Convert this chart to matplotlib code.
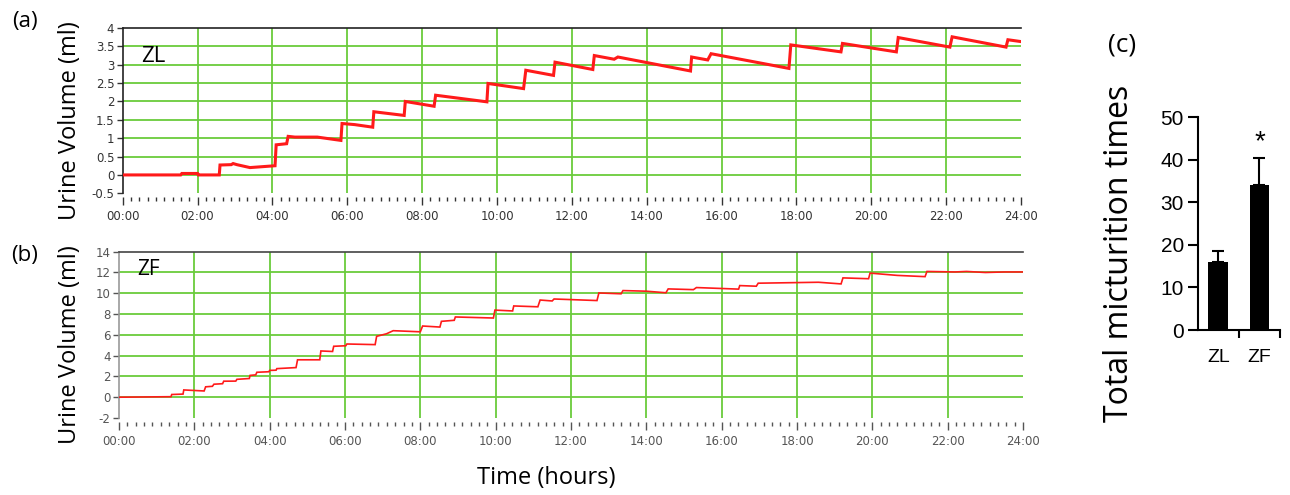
import matplotlib
matplotlib.use("Agg")
import matplotlib.pyplot as plt
from matplotlib.ticker import MultipleLocator, FixedLocator

# ---------------- data ----------------
hour_ticks = [0, 2, 4, 6, 8, 10, 12, 14, 16, 18, 20, 22, 24]
hour_labels = ["00:00", "02:00", "04:00", "06:00", "08:00", "10:00", "12:00",
               "14:00", "16:00", "18:00", "20:00", "22:00", "24:00"]

zl_yticks = [-0.5, 0, 0.5, 1, 1.5, 2, 2.5, 3, 3.5, 4]
zl_ylabels = ["-0.5", "0", "0.5", "1", "1.5", "2", "2.5", "3", "3.5", "4"]
zf_yticks = [-2, 0, 2, 4, 6, 8, 10, 12, 14]
zf_ylabels = ["-2", "0", "2", "4", "6", "8", "10", "12", "14"]

zl_time = [0.0, 1.55, 1.58, 2.0, 2.02, 2.58, 2.60, 2.9, 2.95, 3.05, 3.4, 4.07,
           4.10, 4.38, 4.42, 4.6, 5.2, 5.83, 5.86, 6.2, 6.68, 6.71, 7.52, 7.55,
           8.32, 8.36, 9.73, 9.76, 10.71, 10.77, 11.51, 11.55, 12.56, 12.60,
           13.13, 13.23, 15.17, 15.20, 15.63, 15.72, 17.80, 17.85, 19.19, 19.23,
           20.67, 20.72, 22.10, 22.16, 23.60, 23.65, 24.0]
zl_volume = [0.0, 0.0, 0.04, 0.04, 0.0, 0.0, 0.27, 0.28, 0.31, 0.28, 0.20, 0.25,
             0.82, 0.85, 1.05, 1.03, 1.03, 0.94, 1.40, 1.37, 1.30, 1.72, 1.62, 2.00,
             1.87, 2.17, 1.99, 2.49, 2.35, 2.85, 2.71, 3.07, 2.87, 3.25,
             3.15, 3.21, 2.83, 3.21, 3.13, 3.30, 2.90, 3.54, 3.35, 3.58,
             3.35, 3.74, 3.48, 3.76, 3.48, 3.68, 3.63]

zf_time = [0.0, 1.38, 1.40, 1.70, 1.72, 2.26, 2.30, 2.48, 2.52, 2.75, 2.78, 3.10,
           3.13, 3.46, 3.48, 3.63, 3.66, 3.98, 4.0, 4.17, 4.19, 4.70, 4.74, 5.33,
           5.36, 5.67, 5.70, 6.02, 6.05, 6.80, 6.84, 7.10, 7.28, 7.95, 8.0, 8.06,
           8.52, 8.56, 8.90, 8.93, 9.94, 9.98, 10.45, 10.48, 11.12, 11.18, 11.5,
           11.55, 12.69, 12.74, 13.33, 13.38, 14.0, 14.52, 14.58, 15.25, 15.33,
           16.45, 16.48, 16.92, 16.97, 18.57, 19.17, 19.22, 19.90, 19.94, 20.66,
           21.40, 21.45, 22.2, 22.5, 23.0, 23.5, 24.0]
zf_volume = [0.0, 0.05, 0.26, 0.30, 0.70, 0.60, 1.0, 1.05, 1.25, 1.3, 1.54, 1.55,
             1.72, 1.8, 2.1, 2.15, 2.4, 2.45, 2.58, 2.6, 2.75, 2.85, 3.6, 3.6,
             4.45, 4.4, 4.9, 4.95, 5.12, 5.06, 5.86, 6.1, 6.4, 6.3, 6.3, 6.85,
             6.75, 7.3, 7.4, 7.72, 7.62, 8.38, 8.3, 8.78, 8.7, 9.35, 9.26,
             9.45, 9.3, 10.03, 9.95, 10.26, 10.2, 10.05, 10.42, 10.35, 10.55,
             10.4, 10.74, 10.68, 10.97, 11.06, 10.9, 11.48, 11.4, 11.94, 11.72,
             11.6, 12.1, 12.05, 12.1, 12.0, 12.05, 12.05]

groups = ["ZL", "ZF"]
micturition_mean = [16, 34]
micturition_sem = [2.5, 6.5]
bar_yticks = [0, 10, 20, 30, 40, 50]

# ---------------- style ----------------
GREEN = "#6acb3c"
RED = "#ff1a1a"
W, H = 1290, 495
fig = plt.figure(figsize=(W / 100, H / 100), dpi=100)


def fr(left, top, right, bottom):
    return [left / W, 1 - bottom / H, (right - left) / W, (bottom - top) / H]


def trace_panel(ax, t, v, yticks, ylabels, lw, spine_col, lab_col):
    ax.set_xlim(0, 24)
    ax.set_ylim(yticks[0], yticks[-1])
    for y in yticks[1:-1]:
        ax.axhline(y, color=GREEN, lw=1.3, zorder=1)
    for x in hour_ticks[1:-1]:
        ax.axvline(x, color=GREEN, lw=1.3, zorder=1)
    ax.plot(t, v, color=RED, lw=lw, zorder=3, solid_joinstyle="miter")
    for s in ["right", "bottom"]:
        ax.spines[s].set_visible(False)
    ax.spines["bottom"].set_position(("outward", 3))
    ax.spines["top"].set_color(spine_col)
    ax.spines["top"].set_linewidth(1.2)
    ax.spines["left"].set_color(spine_col)
    ax.spines["left"].set_linewidth(1.2)
    ax.set_yticks(yticks)
    ax.set_yticklabels(ylabels)
    ax.set_xticks(hour_ticks)
    ax.set_xticklabels(hour_labels)
    ax.xaxis.set_minor_locator(MultipleLocator(2 / 9))
    ax.tick_params(axis="y", length=4, width=1, color=lab_col, pad=2,
                   labelsize=8.5, labelcolor=lab_col)
    ax.tick_params(axis="x", which="major", length=6, width=1, color=lab_col,
                   pad=3, labelsize=8.5, labelcolor=lab_col)
    ax.tick_params(axis="x", which="minor", length=3, width=1, color=lab_col)
    for lab in ax.get_xticklabels() + ax.get_yticklabels():
        lab.set_family("DejaVu Sans")


axA = fig.add_axes(fr(122.7, 28, 1021, 193.3))
trace_panel(axA, zl_time, zl_volume, zl_yticks, zl_ylabels, 2.2, "#222222", "#333333")
axA.text(0.5, 3.07, "ZL", fontsize=16, family="Open Sans", va="baseline", zorder=4)

axB = fig.add_axes(fr(119, 251.7, 1023, 418))
trace_panel(axB, zf_time, zf_volume, zf_yticks, zf_ylabels, 1.2, "#999999", "#555555")
axB.spines["top"].set_color("#444444")
axB.text(0.48, 11.76, "ZF", fontsize=15, family="Open Sans", va="baseline", zorder=4)

# shared labels
fig.text(70 / W, 1 - 121 / H, "Urine Volume (ml)", rotation=90, ha="center",
         va="center", fontsize=17, family="Open Sans")
fig.text(70 / W, 1 - 345 / H, "Urine Volume (ml)", rotation=90, ha="center",
         va="center", fontsize=17, family="Open Sans")
fig.text(546 / W, 1 - 478 / H, "Time (hours)", ha="center", va="center",
         fontsize=17, family="Open Sans")
fig.text(25 / W, 1 - 21 / H, "(a)", ha="center", va="center", fontsize=16, family="Open Sans")
fig.text(25 / W, 1 - 255 / H, "(b)", ha="center", va="center", fontsize=16, family="Open Sans")
fig.text(1122 / W, 1 - 45 / H, "(c)", ha="center", va="center", fontsize=19, family="Open Sans")

# bar panel
axC = fig.add_axes(fr(1197.7, 117.3, 1280, 330))
xpos = [0.5, 1.5]
axC.bar(xpos, micturition_mean, width=0.48, color="black", zorder=2,
        yerr=[[0, 0], micturition_sem], capsize=4,
        error_kw=dict(ecolor="black", elinewidth=1.5, capthick=1.5))
axC.set_xlim(0, 2)
axC.set_ylim(0, 50)
axC.set_yticks(bar_yticks)
axC.set_xticks(xpos)
axC.set_xticklabels(groups)
axC.xaxis.set_minor_locator(FixedLocator([1, 2]))
for s in ["top", "right"]:
    axC.spines[s].set_visible(False)
for s in ["left", "bottom"]:
    axC.spines[s].set_linewidth(1.5)
axC.tick_params(axis="y", length=7, width=1.5, labelsize=15, pad=3)
axC.tick_params(axis="x", which="major", length=0, labelsize=14, pad=14)
axC.tick_params(axis="x", which="minor", length=6, width=1.5)
for lab in axC.get_xticklabels() + axC.get_yticklabels():
    lab.set_family("Liberation Sans")
axC.text(1.5, 41, "*", ha="center", va="bottom", fontsize=20, family="Liberation Sans")
fig.text(1120 / W, 1 - 253 / H, "Total micturition times", rotation=90,
         ha="center", va="center", fontsize=23, family="Open Sans")

fig.savefig("out.png", dpi=100)
